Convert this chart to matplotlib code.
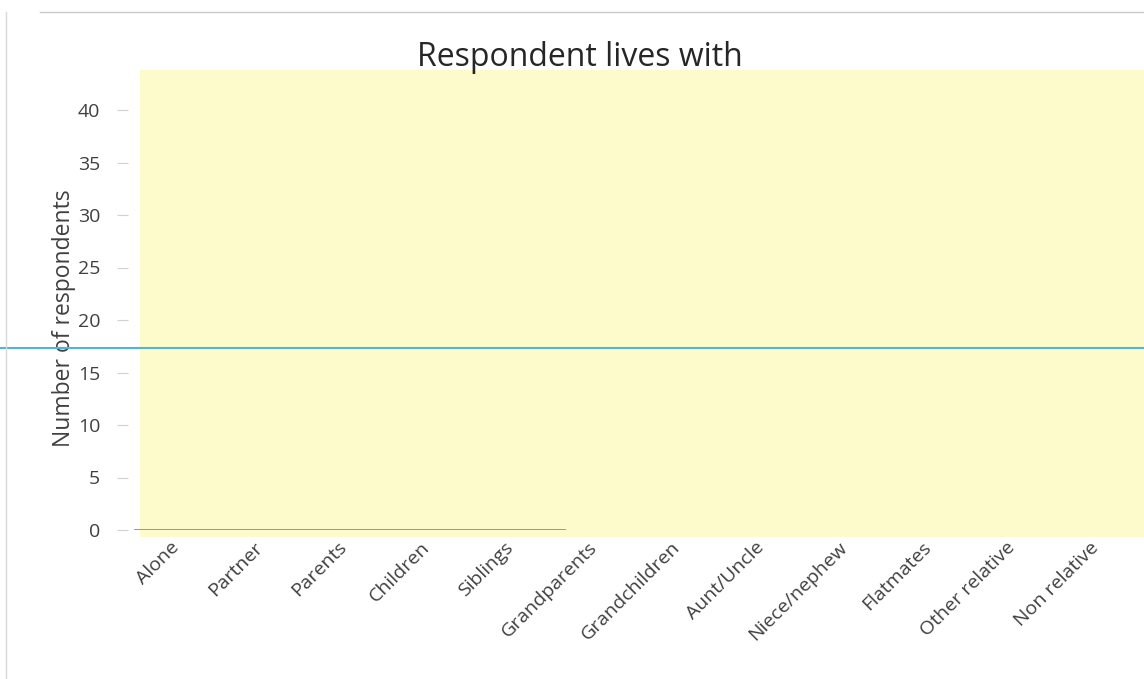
import matplotlib
matplotlib.use("Agg")
import matplotlib.pyplot as plt
from matplotlib.patches import Rectangle
from matplotlib.lines import Line2D

categories = ["Alone", "Partner", "Parents", "Children", "Siblings", "Grandparents",
              "Grandchildren", "Aunt/Uncle", "Niece/nephew", "Flatmates",
              "Other relative", "Non relative"]
values = [0, 0, 0, 0, 0, 0, 0, 0, 0, 0, 0, 0]
yticks = [0, 5, 10, 15, 20, 25, 30, 35, 40]
ref_line = 17.3

plt.rcParams['font.family'] = ['Open Sans', 'DejaVu Sans']

W, H = 1144, 679
fig = plt.figure(figsize=(W / 100, H / 100), dpi=100)
fig.patch.set_facecolor('white')

left_px, right_px, bottom_px, top_px = 128, 1131, 530, 68
ax = fig.add_axes([left_px / W, (H - bottom_px) / H,
                   (right_px - left_px) / W, (bottom_px - top_px) / H])
ax.set_facecolor('none')

# yellow highlight
fig.add_artist(Rectangle((140 / W, (H - 537) / H), (W - 140) / W, (537 - 70) / H,
                         transform=fig.transFigure, facecolor='#fdfbcc',
                         edgecolor='none', zorder=0))

ax.bar(categories, values, color='#5b9bd5', width=0.6)
ax.set_ylim(0, 44)
ax.set_xlim(-0.5, len(categories) - 0.5)
ax.set_yticks(yticks)
ax.set_yticklabels([str(t) for t in yticks], fontsize=14, color='#404040')
ax.tick_params(axis='y', length=8, color='#d0d0d0', pad=12)
ax.tick_params(axis='x', length=0, pad=6)
ax.set_xticks(range(len(categories)))
ax.set_xticklabels(categories, rotation=45, ha='right', rotation_mode='anchor',
                   fontsize=14, color='#404040')
for s in ax.spines.values():
    s.set_visible(False)

# partial baseline
ax.axhline(0, xmin=(135 - left_px) / (right_px - left_px),
           xmax=(565 - left_px) / (right_px - left_px),
           color='#909090', lw=1.3, zorder=3)

# blue horizontal line across the page
ax.axhline(ref_line, xmin=-left_px / (right_px - left_px),
           xmax=(W - left_px) / (right_px - left_px),
           color='#4fb6d6', lw=1.5, clip_on=False, zorder=5)

ax.set_ylabel("Number of respondents", fontsize=16.5, color='#404040')
ax.yaxis.set_label_coords((76 - left_px) / (right_px - left_px),
                          (bottom_px - 318) / (bottom_px - top_px))
fig.text(580 / W, 1 - 57 / H, "Respondent lives with", ha='center', va='center',
         fontsize=23, color='#262626')

# scan border lines
fig.add_artist(Line2D([40 / W, 1.0], [1 - 12 / H, 1 - 12 / H],
                      transform=fig.transFigure, color='#c8c8c8', lw=1))
fig.add_artist(Line2D([6 / W, 6 / W], [0, 1 - 12 / H],
                      transform=fig.transFigure, color='#d8d8d8', lw=1))

fig.savefig("out.png", dpi=100, facecolor='white')
